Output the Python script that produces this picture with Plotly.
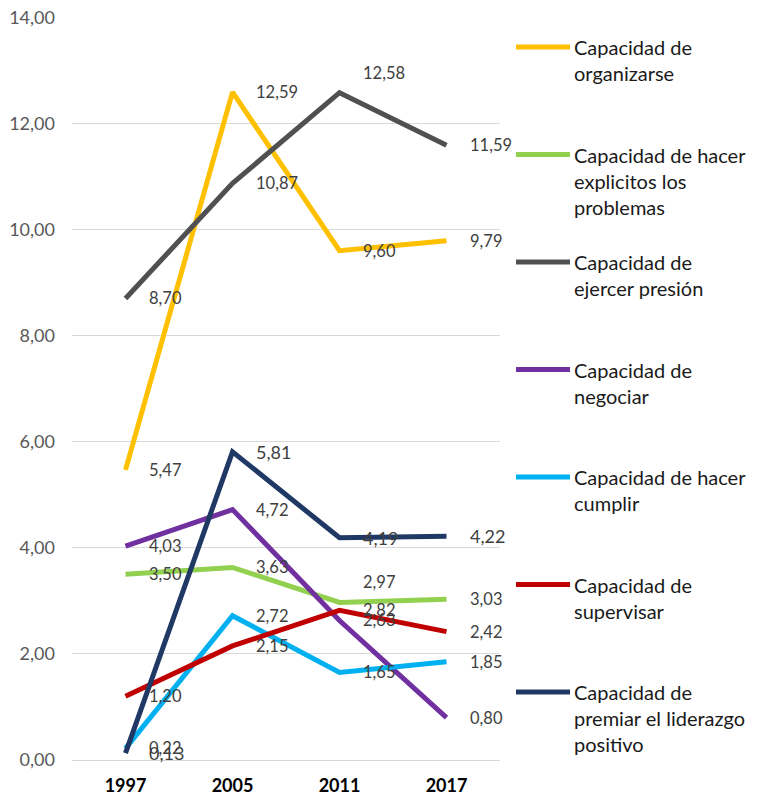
import plotly.graph_objects as go

years = ["1997", "2005", "2011", "2017"]
series_names = [
    "Capacidad de<br>organizarse",
    "Capacidad de hacer<br>explicitos los<br>problemas",
    "Capacidad de<br>ejercer presión",
    "Capacidad de<br>negociar",
    "Capacidad de hacer<br>cumplir",
    "Capacidad de<br>supervisar",
    "Capacidad de<br>premiar el liderazgo<br>positivo",
]
organizarse = [5.47, 12.59, 9.60, 9.79]
explicitos = [3.50, 3.63, 2.97, 3.03]
presion = [8.70, 10.87, 12.58, 11.59]
negociar = [4.03, 4.72, 2.63, 0.80]
cumplir = [0.22, 2.72, 1.65, 1.85]
supervisar = [1.20, 2.15, 2.82, 2.42]
premiar = [0.13, 5.81, 4.19, 4.22]
y_ticks = [0, 2, 4, 6, 8, 10, 12, 14]

series_values = [organizarse, explicitos, presion, negociar, cumplir, supervisar, premiar]
colors = ["#FFC000", "#92D050", "#505050", "#7030A0", "#00B0F0", "#C00000", "#203864"]
label_sizes = [16.5, 16.5, 16.5, 16.5, 16.5, 16.5, 18]
# labels placed above-right instead of right: (series index, year index)
above_labels = {(2, 2), (1, 2)}

FONT = "Lato, 'Open Sans', sans-serif"
xpos = list(range(len(years)))

fig = go.Figure()
for name, vals, col in zip(series_names, series_values, colors):
    fig.add_trace(go.Scatter(
        x=xpos, y=vals, mode="lines", name=name,
        line=dict(color=col, width=5), showlegend=False,
        hoverinfo="skip",
    ))

annotations = []
for si, (vals, sz) in enumerate(zip(series_values, label_sizes)):
    for yi, v in enumerate(vals):
        up = (si, yi) in above_labels
        annotations.append(dict(
            x=xpos[yi], y=v, xref="x", yref="y",
            text=f"{v:.2f}".replace(".", ","),
            showarrow=False, xanchor="left", yanchor="middle",
            xshift=21, yshift=20 if up else 0,
            font=dict(family=FONT, size=sz, color="#404040"),
        ))

# manual legend (evenly spaced slots); coordinates relative to plot area
shapes = []
top_px = 47
step_px = 107.5
for i, (name, col) in enumerate(zip(series_names, colors)):
    ypx = top_px + i * step_px
    yp = 1 - (ypx - 17) / (760 - 17)
    shapes.append(dict(
        type="line", xref="paper", yref="paper",
        x0=(516 - 72) / 428, x1=(570 - 72) / 428, y0=yp, y1=yp,
        line=dict(color=col, width=5),
    ))
    annotations.append(dict(
        x=(572 - 72) / 428, y=yp, xref="paper", yref="paper",
        text=name, showarrow=False, xanchor="left", yanchor="top",
        yshift=14, align="left",
        font=dict(family=FONT, size=20, color="#1a1a1a"),
    ))

fig.update_layout(
    width=760, height=791,
    margin=dict(l=64, r=268, t=9, b=39, autoexpand=False),
    paper_bgcolor="white", plot_bgcolor="white",
    xaxis=dict(
        range=[-0.5, 3.5], tickvals=xpos, ticktext=years, automargin=False,
        showgrid=False, showline=True, linecolor="#d9d9d9", zeroline=False,
        linewidth=1, ticks="", ticklabelstandoff=9,
        tickfont=dict(family=FONT, size=18, color="#000000", weight="bold"),
    ),
    yaxis=dict(
        range=[0, 14.006], tickvals=y_ticks, tickformat=".2f", automargin=False,
        showgrid=True, gridcolor="#d9d9d9", gridwidth=1, zeroline=False,
        ticks="", ticklabelstandoff=16, ticklabeloverflow="allow",
        tickfont=dict(family=FONT, size=18, color="#595959"),
    ),
    separators=",.",
    annotations=annotations,
    shapes=shapes,
    showlegend=False,
)

fig.write_html("out.html")
